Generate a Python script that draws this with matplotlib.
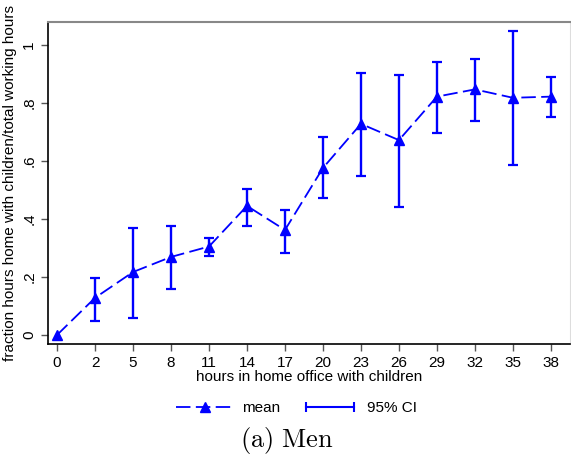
import matplotlib
matplotlib.use("Agg")
import matplotlib.pyplot as plt
from matplotlib.lines import Line2D
from matplotlib.legend_handler import HandlerLine2D

hours = ["0", "2", "5", "8", "11", "14", "17", "20", "23", "26", "29", "32", "35", "38"]
mean = [0.0, 0.128, 0.217, 0.269, 0.305, 0.445, 0.362, 0.576, 0.728, 0.672, 0.822, 0.847, 0.818, 0.822]
ci_low = [0.0, 0.048, 0.059, 0.159, 0.272, 0.376, 0.283, 0.474, 0.548, 0.440, 0.697, 0.739, 0.586, 0.752]
ci_high = [0.0, 0.197, 0.369, 0.376, 0.334, 0.503, 0.431, 0.683, 0.903, 0.897, 0.943, 0.952, 1.048, 0.890]
yticks = [0, 0.2, 0.4, 0.6, 0.8, 1.0]
ytick_labels = ["0", ".2", ".4", ".6", ".8", "1"]

plt.rcParams['font.family'] = ['Liberation Sans', 'DejaVu Sans']
plt.rcParams['mathtext.fontset'] = 'cm'
blue = "#0000FF"

fig = plt.figure(figsize=(5.71, 4.61), dpi=100)
ax = fig.add_axes([0.084, 0.254, 0.914, 0.698])

x = list(range(len(hours)))
lo = [m - l for m, l in zip(mean, ci_low)]
hi = [h - m for m, h in zip(mean, ci_high)]
ci_idx = [i for i in x if hi[i] > 0 or lo[i] > 0]
ax.errorbar([x[i] for i in ci_idx], [mean[i] for i in ci_idx],
            yerr=[[lo[i] for i in ci_idx], [hi[i] for i in ci_idx]],
            fmt='none', ecolor=blue, elinewidth=1.7, capsize=3.5, capthick=1.6, zorder=2)
ax.plot(x, mean, color=blue, linestyle=(0, (8, 3)), linewidth=1.3,
        marker='^', markersize=7.5, markerfacecolor=blue, markeredgecolor=blue, zorder=3)

ax.set_xlim(-0.24, 13.5)
ax.set_ylim(-0.031, 1.079)
ax.set_xticks(x)
ax.set_xticklabels(hours, fontsize=11)
ax.set_yticks(yticks)
ax.set_yticklabels(ytick_labels, fontsize=11, rotation=90, va='center')
ax.tick_params(direction='out', length=5, width=1, color='#555555')
ax.set_xlabel("hours in home office with children", fontsize=11, labelpad=0)
ax.set_ylabel("fraction hours home with children/total working hours", fontsize=11, labelpad=4)

for s in ['left', 'bottom']:
    ax.spines[s].set_color('black')
    ax.spines[s].set_linewidth(1.2)
ax.spines['top'].set_color('#888888')
ax.spines['top'].set_linewidth(1.5)
ax.spines['right'].set_color('#dddddd')
ax.spines['right'].set_linewidth(0.8)

h_mean = Line2D([], [], color=blue, linestyle=(0, (8, 3)), linewidth=1.3, marker='^',
                markersize=7.5)
h_ci = Line2D([], [], color=blue, linewidth=1.5, marker='|', markersize=7, markeredgewidth=1.5)
fig.legend([h_mean, h_ci], ["mean", "95% CI"], loc='center', bbox_to_anchor=(0.52, 0.115),
           ncol=2, frameon=False, fontsize=11, handlelength=3.7, columnspacing=1.4,
           handletextpad=0.6,
           handler_map={h_mean: HandlerLine2D(numpoints=1), h_ci: HandlerLine2D(numpoints=2)})

fig.text(0.503, 0.045, r"$\mathrm{(a)\ Men}$", fontsize=19, ha='center', va='center')

fig.savefig("out.png", dpi=100, facecolor='white')
